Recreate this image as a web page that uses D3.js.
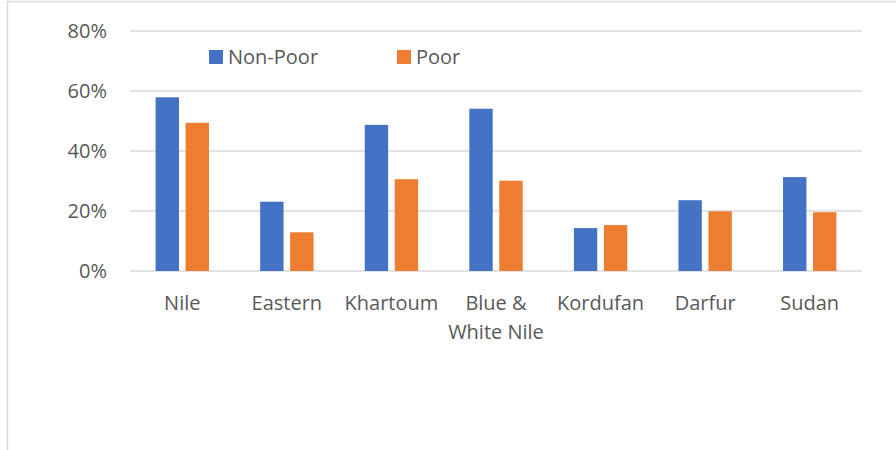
<!DOCTYPE html>
<meta charset="utf-8">
<script src="https://d3js.org/d3.v7.min.js"></script>
<style>
  body { margin: 0; background: #fff; }
  text { font-family: "Open Sans", sans-serif; fill: #595959; }
</style>
<body>
<svg id="chart" width="896" height="450"></svg>
<script>
  // data
  var regions = ["Nile", "Eastern", "Khartoum", "Blue & White Nile", "Kordufan", "Darfur", "Sudan"];
  var nonPoor = [0.579, 0.231, 0.487, 0.541, 0.143, 0.236, 0.313];
  var poor    = [0.494, 0.129, 0.306, 0.301, 0.153, 0.199, 0.196];
  var seriesNames = ["Non-Poor", "Poor"];
  var yTicks = [0, 0.2, 0.4, 0.6, 0.8];

  var svg = d3.select("#chart");
  var colors = ["#4472c4", "#ed7d31"];

  // outer frame (only top and left show inside the picture)
  svg.append("path")
      .attr("d", "M7.5,460 V1.5 H900")
      .attr("fill", "none")
      .attr("stroke", "#d9d9d9")
      .attr("stroke-width", 1.5);

  var x = d3.scaleBand().domain(regions).range([130, 862]);
  var x1 = d3.scaleBand().domain(seriesNames)
      .range([25.6, x.bandwidth() - 25.6])
      .paddingInner(0.22);
  var y = d3.scaleLinear().domain([0, 0.8]).range([271, 31]);

  // gridlines
  svg.append("g")
    .selectAll("line")
    .data(yTicks)
    .enter()
    .append("line")
      .attr("x1", 130).attr("x2", 862)
      .attr("y1", function(d){ return y(d) }).attr("y2", function(d){ return y(d) })
      .attr("stroke", "#d9d9d9")
      .attr("stroke-width", 1.5);

  // y labels
  svg.append("g")
    .selectAll("text")
    .data(yTicks)
    .enter()
    .append("text")
      .attr("x", 107)
      .attr("y", function(d){ return y(d) + 7 })
      .attr("text-anchor", "end")
      .style("font-size", "20px")
      .text(d3.format(".0%"));

  // bars
  var rows = regions.map(function(r, i){ return { region: r, values: [nonPoor[i], poor[i]] } });
  svg.append("g")
    .selectAll("g")
    .data(rows)
    .enter()
    .append("g")
      .attr("transform", function(d){ return "translate(" + x(d.region) + ",0)" })
    .selectAll("rect")
    .data(function(d){ return d.values.map(function(v, j){ return { name: seriesNames[j], v: v, c: colors[j] } }) })
    .enter()
    .append("rect")
      .attr("x", function(d){ return x1(d.name) })
      .attr("width", x1.bandwidth())
      .attr("y", function(d){ return y(d.v) })
      .attr("height", function(d){ return y(0) - y(d.v) })
      .attr("fill", function(d){ return d.c });

  // category labels, wrap the long one
  var labels = svg.append("g")
    .selectAll("text")
    .data(regions)
    .enter()
    .append("text")
      .attr("text-anchor", "middle")
      .attr("x", function(d){ return x(d) + x.bandwidth() / 2 })
      .attr("y", 310)
      .style("font-size", "20px");
  labels.each(function(d){
    var lines = d == "Blue & White Nile" ? ["Blue &", "White Nile"] : [d];
    var t = d3.select(this);
    lines.forEach(function(l, i){
      t.append("tspan")
        .attr("x", x(d) + x.bandwidth() / 2)
        .attr("dy", i == 0 ? 0 : 29)
        .text(l);
    });
  });

  // legend
  var legendX = [209, 397];
  var leg = svg.append("g")
    .selectAll("g")
    .data(seriesNames)
    .enter()
    .append("g")
      .attr("transform", function(d, i){ return "translate(" + legendX[i] + ",50)" });
  leg.append("rect")
      .attr("width", 14).attr("height", 14)
      .attr("fill", function(d, i){ return colors[i] });
  leg.append("text")
      .attr("x", 19)
      .attr("y", 14)
      .style("font-size", "20px")
      .text(function(d){ return d });
</script>
</body>
